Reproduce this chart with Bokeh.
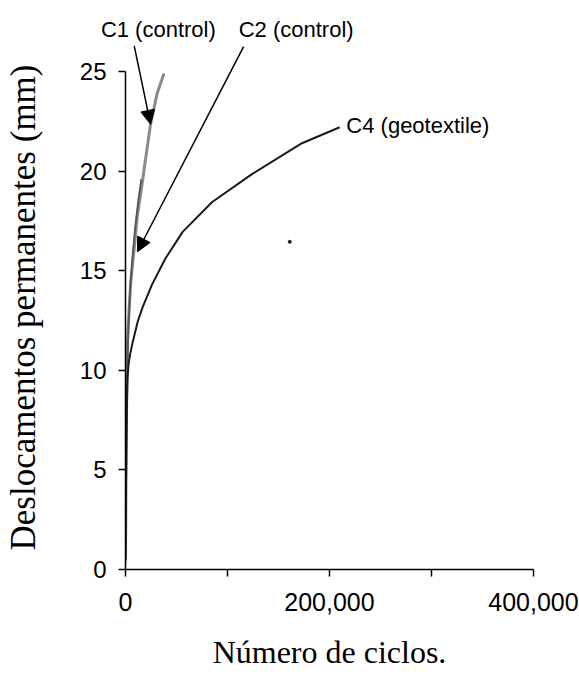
from bokeh.plotting import figure
from bokeh.models import (Range1d, FixedTicker, Label, Arrow, NormalHead,
                          NumeralTickFormatter, LinearAxis)
from bokeh.embed import file_html
from bokeh.resources import INLINE

# ---- data ----
c1_cycles = [0, 300, 700, 1200, 2000, 3600, 5200, 8500, 11700, 16600, 18000, 24400, 31000, 37700]
c1_disp = [0.5, 3.0, 6.0, 9.0, 11.5, 13.1, 14.45, 16.1, 17.8, 19.45, 20.0, 22.3, 23.9, 24.9]

c2_cycles = [0, 400, 900, 1600, 2800, 4500, 6500, 9500, 12500, 15500]
c2_disp = [0.3, 3.0, 6.5, 9.5, 12.0, 14.0, 15.5, 17.2, 18.5, 19.6]

c4_cycles = [0, 300, 600, 1000, 1500, 2000, 3000, 4500, 7000, 12000, 17000, 26000,
             39000, 56000, 85000, 124000, 173000, 210000]
c4_disp = [0.5, 3.0, 5.0, 7.0, 8.5, 9.6, 10.3, 10.8, 11.4, 12.45, 13.2, 14.3,
           15.6, 16.95, 18.45, 19.85, 21.4, 22.2]

stray_cycles = [161000]
stray_disp = [16.45]

x_ticks = [0, 100000, 200000, 300000, 400000]
y_ticks = [0, 5, 10, 15, 20, 25]

# series names: C1 and C2 sit above the plot (centre x in data units),
# C4 sits inside the plot area
top_names = ["C1 (control)", "C2 (control)"]
top_name_x = [32200, 167300]
c4_name = "C4 (geotextile)"
c4_name_x = 216500
c4_name_y = 22.3
arrow_start_x = [8500, 115800]
arrow_start_y = [26.3, 26.25]
arrow_end_x = [24600, 11700]
arrow_end_y = [22.35, 15.95]

p = figure(width=579, height=675, output_backend="svg", toolbar_location=None,
           x_range=Range1d(0, 400000), y_range=Range1d(0, 26.305),
           min_border_left=123, min_border_right=46, min_border_top=45,
           min_border_bottom=106)
p.outline_line_color = None
p.grid.visible = False
p.background_fill_color = "white"

p.line(c1_cycles, c1_disp, line_color="#8a8a8a", line_width=3)
p.line(c2_cycles, c2_disp, line_color="#555555", line_width=1.8)
p.line(c4_cycles, c4_disp, line_color="#1a1a1a", line_width=2)
p.scatter(stray_cycles, stray_disp, size=3, color="#1a1a1a")

# axes
xa = p.xaxis[0]
xa.ticker = FixedTicker(ticks=x_ticks)
xa.formatter = NumeralTickFormatter(format="0,0")
xa.major_label_overrides = {100000: "", 300000: ""}
xa.bounds = (0, 400000)
ya = p.yaxis[0]
ya.ticker = FixedTicker(ticks=y_ticks)
ya.bounds = (0, 25)

for ax in (xa, ya):
    ax.axis_line_color = "black"
    ax.axis_line_width = 1.5
    ax.major_tick_line_color = "black"
    ax.major_tick_line_width = 1.5
    ax.major_tick_out = 7
    ax.major_tick_in = 0
    ax.minor_tick_line_color = None
    ax.major_label_text_font = "Liberation Sans"
    ax.major_label_text_color = "black"
    ax.axis_label_text_font = "Liberation Serif"
    ax.axis_label_text_font_style = "normal"
    ax.axis_label_text_color = "black"

xa.major_label_text_font_size = "25px"
xa.major_label_standoff = 16
xa.axis_label = "Número de ciclos."
xa.axis_label_text_font_size = "32px"
xa.axis_label_standoff = 20

ya.major_label_text_font_size = "24px"
ya.major_label_standoff = 12
ya.axis_label = "Deslocamentos permanentes (mm)"
ya.axis_label_text_font_size = "35px"
ya.axis_label_standoff = 34

# series labels above the plot area, carried by an invisible top axis
top = LinearAxis(ticker=FixedTicker(ticks=top_name_x),
                 major_label_overrides={k: v for k, v in zip(top_name_x, top_names)},
                 axis_line_color=None, major_tick_line_color=None,
                 minor_tick_line_color=None, major_tick_out=0, major_tick_in=0,
                 major_label_standoff=4, major_label_text_font="Liberation Sans",
                 major_label_text_font_size="22px", major_label_text_color="black")
p.add_layout(top, "above")

p.add_layout(Label(x=c4_name_x, y=c4_name_y, text=c4_name, text_font="Liberation Sans",
                   text_font_size="22px", text_color="black",
                   text_align="left", text_baseline="alphabetic"))
for sx, sy, ex, ey in zip(arrow_start_x, arrow_start_y, arrow_end_x, arrow_end_y):
    p.add_layout(Arrow(end=NormalHead(size=14, fill_color="black", line_color="black"),
                       x_start=sx, y_start=sy, x_end=ex, y_end=ey,
                       line_color="black", line_width=1.5))

open("out.html", "w").write(file_html(p, INLINE))
